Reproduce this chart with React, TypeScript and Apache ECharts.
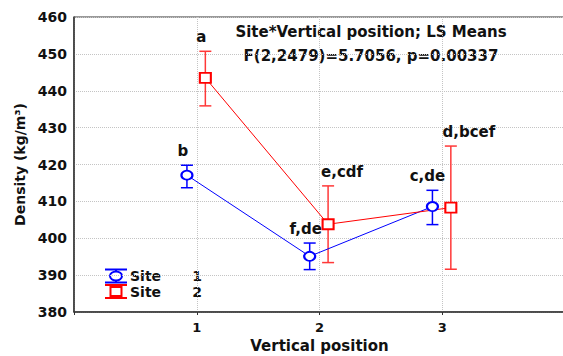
import React, { useEffect, useRef } from "react";
import * as echarts from "echarts";

const positions = [1, 2, 3];
const xTickLabels = ["1", "2", "3"];
const site1Mean = [417.1, 395.1, 408.6];
const site1Upper = [419.8, 398.7, 413.0];
const site1Lower = [413.7, 391.5, 403.7];
const site1Letters = ["b", "f,de", "c,de"];
const site2Mean = [443.5, 403.8, 408.3];
const site2Upper = [450.7, 414.2, 425.0];
const site2Lower = [435.9, 393.4, 391.6];
const site2Letters = ["a", "e,cdf", "d,bcef"];
const legendNames = ["Site", "Site"];
const legendLevels = ["1", "2"];
const titleLines = ["Site*Vertical position; LS Means", "F(2,2479)=5.7056, p=0.00337"];

const FONT = '"DejaVu Sans", sans-serif';
const BLUE = "#0000ff";
const RED = "#ff0000";
const RED_BAR = "#ff3838";
const site1Offset = -0.08;
const site2Offset = 0.07;
const site1LabelDx = [-4, -4, -5];
const site2LabelDx = [-4, 14, 18];

function errRender(color: string, letters: string[], dxs: number[]) {
  return (params: any, api: any) => {
    const x = api.value(0);
    const lo = api.value(1);
    const hi = api.value(2);
    const top = api.coord([x, hi]);
    const bot = api.coord([x, lo]);
    const hw = 6;
    const i = params.dataIndex;
    const ls = { stroke: color, lineWidth: 1.5 };
    return {
      type: "group",
      children: [
        { type: "line", shape: { x1: top[0], y1: top[1], x2: bot[0], y2: bot[1] }, style: ls },
        { type: "line", shape: { x1: top[0] - hw, y1: top[1], x2: top[0] + hw, y2: top[1] }, style: ls },
        { type: "line", shape: { x1: bot[0] - hw, y1: bot[1], x2: bot[0] + hw, y2: bot[1] }, style: ls },
        {
          type: "text",
          x: top[0] + dxs[i],
          y: top[1] - 14,
          style: {
            text: letters[i],
            align: "center",
            verticalAlign: "middle",
            font: `bold 15px ${FONT}`,
            fill: "#111",
          },
        },
      ],
    };
  };
}

export default function App() {
  const ref = useRef<HTMLDivElement>(null);
  useEffect(() => {
    const chart = echarts.init(ref.current!, null, { renderer: "svg" });
    const s1Line = positions.map((p, i) => [p + site1Offset, site1Mean[i]]);
    const s2Line = positions.map((p, i) => [p + site2Offset, site2Mean[i]]);
    const s1Err = positions.map((p, i) => [p + site1Offset, site1Lower[i], site1Upper[i]]);
    const s2Err = positions.map((p, i) => [p + site2Offset, site2Lower[i], site2Upper[i]]);

    const legendY = [276, 291.5];
    const legendGraphic: any[] = [];
    const bx = 116;
    legendGraphic.push(
      { type: "line", shape: { x1: 105, y1: legendY[0] - 6.5, x2: 127, y2: legendY[0] - 6.5 }, style: { stroke: BLUE, lineWidth: 2 } },
      { type: "line", shape: { x1: 105, y1: legendY[0] + 6.5, x2: 127, y2: legendY[0] + 6.5 }, style: { stroke: BLUE, lineWidth: 2 } },
      { type: "line", shape: { x1: bx, y1: legendY[0] - 6.5, x2: bx, y2: legendY[0] + 6.5 }, style: { stroke: BLUE, lineWidth: 2 } },
      { type: "ellipse", shape: { cx: bx, cy: legendY[0], rx: 6, ry: 4.5 }, style: { fill: "#fff", stroke: BLUE, lineWidth: 2 } },
      { type: "line", shape: { x1: 105, y1: legendY[1] - 6.5, x2: 127, y2: legendY[1] - 6.5 }, style: { stroke: RED, lineWidth: 2 } },
      { type: "line", shape: { x1: 105, y1: legendY[1] + 6.5, x2: 127, y2: legendY[1] + 6.5 }, style: { stroke: RED, lineWidth: 2 } },
      { type: "line", shape: { x1: bx, y1: legendY[1] - 6.5, x2: bx, y2: legendY[1] + 6.5 }, style: { stroke: RED, lineWidth: 2 } },
      { type: "rect", shape: { x: bx - 5.5, y: legendY[1] - 4.5, width: 11, height: 9 }, style: { fill: "#fff", stroke: RED, lineWidth: 2 } }
    );
    legendNames.forEach((n, i) => {
      legendGraphic.push(
        { type: "text", x: 130, y: legendY[i], style: { text: n, font: `bold 14px ${FONT}`, fill: "#111", align: "left", verticalAlign: "middle" } },
        { type: "text", x: 197, y: legendY[i], style: { text: legendLevels[i], font: `bold 14px ${FONT}`, fill: "#111", align: "center", verticalAlign: "middle" } }
      );
    });
    titleLines.forEach((t, i) => {
      legendGraphic.push({
        type: "text",
        x: 371,
        y: 32 + i * 23.5,
        style: { text: t, font: `bold 15px ${FONT}`, fill: "#111", align: "center", verticalAlign: "middle" },
      });
    });

    const option: any = {
      animation: false,
      backgroundColor: "#fff",
      grid: {
        left: 74,
        top: 17,
        width: 491,
        height: 295,
        show: true,
        borderColor: "#333",
        borderWidth: 1,
        backgroundColor: "transparent",
        containLabel: false,
        outerBoundsMode: "none",
      },
      xAxis: {
        type: "value",
        min: 0,
        max: 4,
        interval: 1,
        name: "Vertical position",
        nameLocation: "middle",
        nameGap: 26,
        nameTextStyle: { fontFamily: FONT, fontWeight: "bold", fontSize: 15, color: "#111" },
        axisLine: { show: true, lineStyle: { color: "#333", width: 1.5 } },
        axisTick: { show: true, length: 3, lineStyle: { color: "#333" } },
        axisLabel: {
          margin: 9,
          fontFamily: FONT,
          fontWeight: "bold",
          fontSize: 13,
          color: "#111",
          formatter: (v: number) => {
            const idx = positions.indexOf(v);
            return idx >= 0 ? xTickLabels[idx] : "";
          },
        },
        splitLine: { show: true, lineStyle: { color: "#c4c4c4", type: "dotted", width: 1 } },
      },
      yAxis: {
        type: "value",
        min: 380,
        max: 460,
        interval: 10,
        name: "Density (kg/m³)",
        nameLocation: "middle",
        nameGap: 47,
        nameRotate: 90,
        nameTextStyle: { fontFamily: FONT, fontWeight: "bold", fontSize: 14, color: "#111" },
        axisLine: { show: true, lineStyle: { color: "#333", width: 1.5 } },
        axisTick: { show: false },
        axisLabel: { margin: 7, fontFamily: FONT, fontWeight: "bold", fontSize: 14, color: "#111" },
        splitLine: { show: true, lineStyle: { color: "#c4c4c4", type: "dotted", width: 1 } },
      },
      graphic: legendGraphic,
      series: [
        {
          type: "custom",
          z: 2,
          renderItem: errRender(BLUE, site1Letters, site1LabelDx),
          encode: { x: 0, y: [1, 2] },
          data: s1Err,
        },
        {
          type: "custom",
          z: 2,
          renderItem: errRender(RED_BAR, site2Letters, site2LabelDx),
          encode: { x: 0, y: [1, 2] },
          data: s2Err,
        },
        {
          type: "line",
          z: 3,
          data: s1Line,
          symbol: "circle",
          symbolSize: [11, 9],
          itemStyle: { color: "#fff", borderColor: BLUE, borderWidth: 2 },
          lineStyle: { color: BLUE, width: 1 },
        },
        {
          type: "line",
          z: 3,
          data: s2Line,
          symbol: "rect",
          symbolSize: [11, 10],
          itemStyle: { color: "#fff", borderColor: RED, borderWidth: 2 },
          lineStyle: { color: RED, width: 1 },
        },
      ],
    };
    chart.setOption(option);
    return () => chart.dispose();
  }, []);
  return <div ref={ref} style={{ position: "fixed", left: 0, top: 0, width: 563, height: 356, background: "#fff" }} />;
}
